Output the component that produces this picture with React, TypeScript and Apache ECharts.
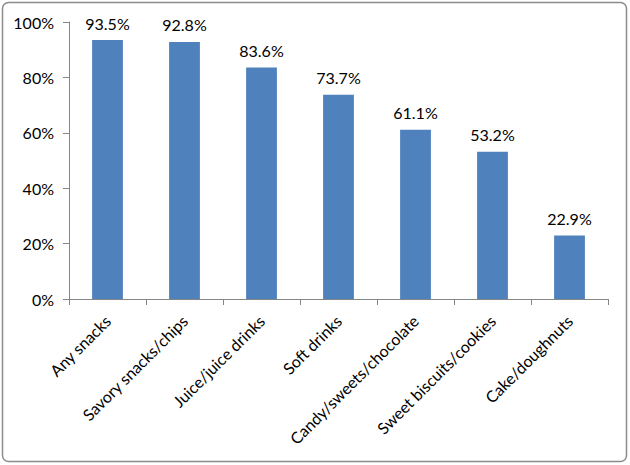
import React, { useEffect, useRef } from "react";
import * as echarts from "echarts";

const categories = [
  "Any snacks",
  "Savory snacks/chips",
  "Juice/juice drinks",
  "Soft drinks",
  "Candy/sweets/chocolate",
  "Sweet biscuits/cookies",
  "Cake/doughnuts",
];
const values = [93.5, 92.8, 83.6, 73.7, 61.1, 53.2, 22.9];
const yTicks = [0, 20, 40, 60, 80, 100];

export default function App() {
  const ref = useRef<HTMLDivElement>(null);
  useEffect(() => {
    document.body.style.margin = "0";
    const chart = echarts.init(ref.current!, null, { renderer: "svg" });
    const font = "Lato";
    chart.setOption({
      animation: false,
      graphic: [
        {
          type: "rect",
          shape: { x: 2.5, y: 2.5, width: 624, height: 459, r: 6 },
          style: { fill: "none", stroke: "#8c8c8c", lineWidth: 1.5 },
        },
      ],
      grid: { left: 69, right: 22, top: 22, bottom: 166, containLabel: false },
      xAxis: {
        type: "category",
        data: categories,
        axisLine: { lineStyle: { color: "#868686" } },
        axisTick: { show: true, alignWithLabel: false, length: 6, lineStyle: { color: "#868686" } },
        axisLabel: {
          rotate: 45,
          interval: 0,
          margin: 19,
          color: "#000",
          fontFamily: font,
          fontSize: 16,
        },
      },
      yAxis: {
        type: "value",
        min: yTicks[0],
        max: yTicks[yTicks.length - 1],
        interval: 20,
        axisLine: { show: true, lineStyle: { color: "#868686" } },
        axisTick: { show: true, length: 6, lineStyle: { color: "#868686" } },
        splitLine: { show: false },
        axisLabel: {
          formatter: (v: number) => v + "%",
          color: "#000",
          fontFamily: font,
          fontSize: 16,
          margin: 15,
        },
      },
      series: [
        {
          type: "bar",
          data: values,
          barWidth: "40%",
          itemStyle: { color: "#4F81BD" },
          label: {
            show: true,
            position: "top",
            distance: 9,
            formatter: (p: any) => p.value.toFixed(1) + "%",
            color: "#000",
            fontFamily: font,
            fontSize: 16,
          },
        },
      ],
    });
    return () => chart.dispose();
  }, []);
  return <div ref={ref} style={{ width: 630, height: 465 }} />;
}
